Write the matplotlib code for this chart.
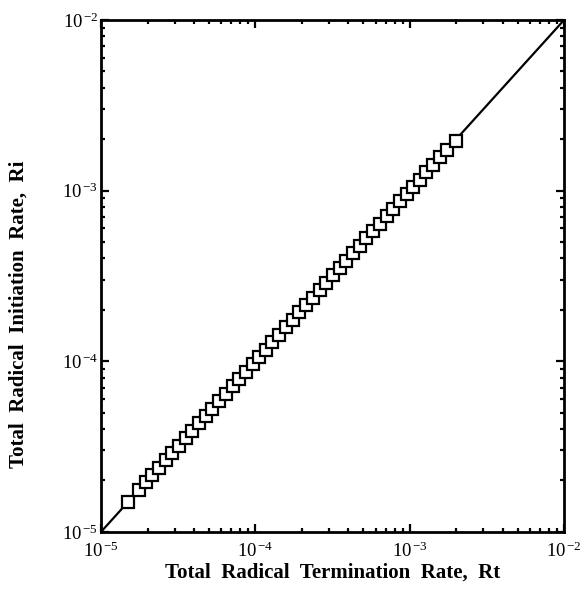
import math
import matplotlib
matplotlib.use("Agg")
import matplotlib.pyplot as plt
from matplotlib.ticker import LogLocator, FuncFormatter

plt.rcParams['font.family'] = ['Liberation Serif', 'DejaVu Serif']
plt.rcParams['mathtext.fontset'] = 'custom'
plt.rcParams['mathtext.rm'] = 'Liberation Serif'
plt.rcParams['mathtext.it'] = 'Liberation Serif:italic'
plt.rcParams['mathtext.bf'] = 'Liberation Serif:bold'

# total radical termination rate (x) and initiation rate (y)
rt = [1.50e-5, 1.76e-5, 1.95e-5, 2.15e-5, 2.37e-5, 2.62e-5, 2.90e-5, 3.20e-5,
      3.54e-5, 3.91e-5, 4.32e-5, 4.77e-5, 5.27e-5, 5.83e-5, 6.44e-5, 7.11e-5,
      7.86e-5, 8.69e-5, 9.60e-5, 1.06e-4, 1.17e-4, 1.29e-4, 1.43e-4, 1.58e-4,
      1.75e-4, 1.93e-4, 2.13e-4, 2.36e-4, 2.61e-4, 2.88e-4, 3.18e-4, 3.52e-4,
      3.88e-4, 4.29e-4, 4.74e-4, 5.24e-4, 5.79e-4, 6.40e-4, 7.07e-4, 7.81e-4,
      8.64e-4, 9.54e-4, 1.05e-3, 1.16e-3, 1.28e-3, 1.42e-3, 1.57e-3, 1.73e-3,
      1.98e-3]
ri = [1.50e-5, 1.76e-5, 1.95e-5, 2.15e-5, 2.37e-5, 2.62e-5, 2.90e-5, 3.20e-5,
      3.54e-5, 3.91e-5, 4.32e-5, 4.77e-5, 5.27e-5, 5.83e-5, 6.44e-5, 7.11e-5,
      7.86e-5, 8.69e-5, 9.60e-5, 1.06e-4, 1.17e-4, 1.29e-4, 1.43e-4, 1.58e-4,
      1.75e-4, 1.93e-4, 2.13e-4, 2.36e-4, 2.61e-4, 2.88e-4, 3.18e-4, 3.52e-4,
      3.88e-4, 4.29e-4, 4.74e-4, 5.24e-4, 5.79e-4, 6.40e-4, 7.07e-4, 7.81e-4,
      8.64e-4, 9.54e-4, 1.05e-3, 1.16e-3, 1.28e-3, 1.42e-3, 1.57e-3, 1.73e-3,
      1.95e-3]
# parity line Ri = Rt
line_x = [1e-5, 1e-2]
line_y = [1e-5, 1e-2]

fig = plt.figure(figsize=(5.84, 6.03), dpi=100)
ax = fig.add_axes([0.173, 0.118, 0.793, 0.849])

ax.plot(line_x, line_y, color='black', lw=1.6, zorder=2)
ax.plot(rt, ri, ls='none', marker='s', ms=8.5, mfc='white', mec='black',
        mew=1.6, zorder=3)

ax.set_xscale('log')
ax.set_yscale('log')
ax.set_xlim(1e-5, 1e-2)
ax.set_ylim(1e-5, 1e-2)

fmt = FuncFormatter(lambda v, p: r'$\mathrm{10}^{\,\mathrm{-%d}}$' % abs(round(math.log10(v))))
for axis in (ax.xaxis, ax.yaxis):
    axis.set_major_locator(LogLocator(base=10, numticks=10))
    axis.set_minor_locator(LogLocator(base=10, subs=range(2, 10), numticks=10))
    axis.set_major_formatter(fmt)
    axis.set_minor_formatter(FuncFormatter(lambda v, p: ''))

ax.tick_params(which='both', direction='in', top=True, right=True, width=1.6)
ax.tick_params(which='major', length=6, labelsize=13.5)
ax.tick_params(which='minor', length=3)
ax.tick_params(axis='x', which='major', pad=7)
ax.tick_params(axis='y', which='major', pad=2)
for s in ax.spines.values():
    s.set_linewidth(2)

ax.set_xlabel('Total  Radical  Termination  Rate,  Rt', fontsize=15,
              fontweight='bold')
ax.set_ylabel('Total  Radical  Initiation  Rate,  Ri', fontsize=15,
              fontweight='bold')
ax.xaxis.set_label_coords(0.5, -0.06)
ax.yaxis.set_label_coords(-0.157, 0.424)

fig.savefig('out.png', dpi=100)
